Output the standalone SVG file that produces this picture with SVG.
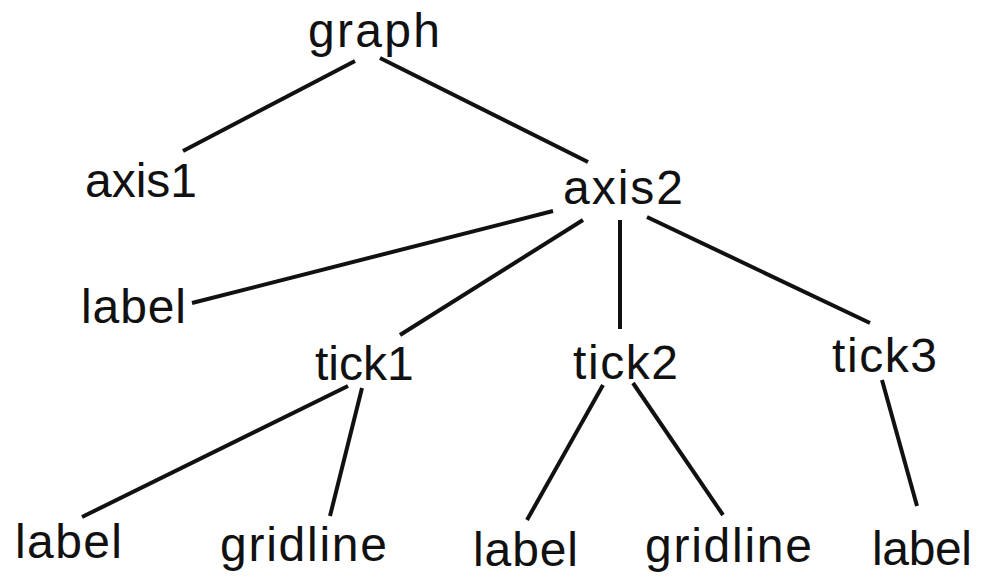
<svg xmlns="http://www.w3.org/2000/svg" width="991" height="580" viewBox="0 0 991 580">
<style>
text{font-family:"Liberation Sans",Arial,sans-serif;font-size:48px;fill:#111}
.c line{stroke:#111;stroke-width:4;stroke-linecap:butt}
</style>
<rect width="991" height="580" fill="#fff"/>
<g class="c" id="connectors">
<line x1="355" y1="61" x2="183" y2="151"/>
<line x1="380" y1="58" x2="588" y2="162"/>
<line x1="553" y1="211" x2="192" y2="303"/>
<line x1="583" y1="220" x2="400" y2="335"/>
<line x1="620" y1="220" x2="620" y2="329"/>
<line x1="647" y1="217" x2="870" y2="323"/>
<line x1="348" y1="386" x2="82" y2="517"/>
<line x1="362" y1="388" x2="330" y2="516"/>
<line x1="603" y1="385" x2="527" y2="520"/>
<line x1="633" y1="383" x2="723" y2="515"/>
<line x1="882" y1="380" x2="917" y2="506"/>
</g>
<g id="graph"><text x="308" y="47" textLength="132">graph</text></g>
<g id="axis1"><text x="85" y="197">axis1</text></g>
<g id="axis2"><text x="563" y="204" textLength="120">axis2</text></g>
<g id="label1"><text x="81" y="323" textLength="105">label</text></g>
<g id="tick1"><text x="315" y="380">tick1</text></g>
<g id="tick2"><text x="573" y="379" textLength="105">tick2</text></g>
<g id="tick3"><text x="832" y="372" textLength="105">tick3</text></g>
<g id="label2"><text x="15" y="558" textLength="107">label</text></g>
<g id="gridline1"><text x="220" y="561" textLength="167">gridline</text></g>
<g id="label3"><text x="473" y="566" textLength="105">label</text></g>
<g id="gridline2"><text x="645" y="562" textLength="167">gridline</text></g>
<g id="label4"><text x="872" y="565" textLength="100">label</text></g>
</svg>
